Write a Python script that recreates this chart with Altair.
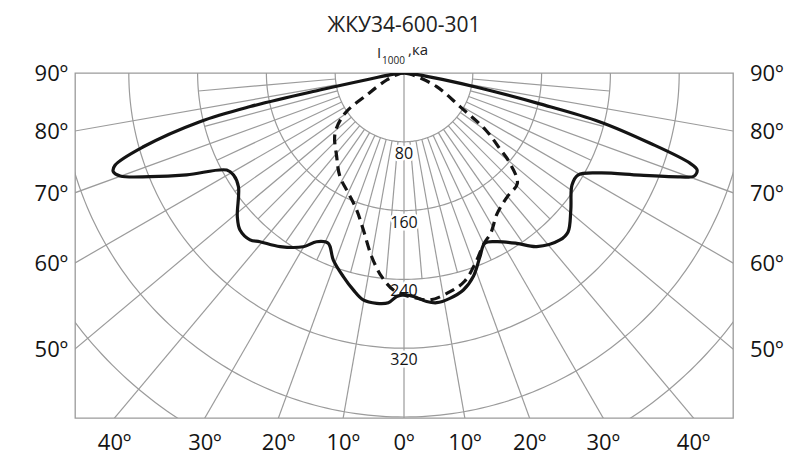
import altair as alt
import pandas as pd
import numpy as np

# ---------------- data ----------------
TITLE = "ЖКУ34-600-301"
UNIT_MAIN = "I"
UNIT_SUB = "1000"
UNIT_TAIL = ",ка"

# solid curve: angle from nadir (deg, left negative), intensity (cd)
solid_angle = [-90, -84, -80, -78.6, -77.7, -76.6, -74.2, -72.3, -71.25, -70.06,
               -67.8, -64.9, -61.3, -59.1, -55.5, -49.2, -46.25, -42.7, -40.5,
               -35.5, -30.1, -27.4, -24, -20.7, -16.6, -13.15, -10.2, -6.76,
               -3.9, -1.87, 0, 2.4, 5.67, 8.1, 11.5, 15.3, 18.8, 22.5, 25.4,
               28.8, 33.5, 37.4, 43.05, 45.9, 50.6, 56.3, 59.6, 63, 66.6, 69.4,
               70.4, 71.7, 72.5, 74.1, 76, 77.2, 78.8, 80.5, 84, 90]
solid_cd = [0, 12, 40, 100, 183, 244, 315, 352.7, 357, 351,
            319, 279, 235, 231, 233.6, 256, 264, 264, 258,
            248, 233.5, 221, 216.7, 232.5, 247, 259, 268, 269.7,
            267.7, 260, 258, 260, 267, 269.8, 267.4, 261.6, 250, 231, 219,
            223.8, 237.5, 254, 265.7, 265.6, 251, 234.8, 234.5, 256, 299, 343,
            358, 359, 348.6, 297, 235, 162, 90, 45, 12, 0]

# dashed curve
dash_angle = [-90, -80, -68, -59.5, -55.7, -48.8, -38.8, -31.7, -24.8, -19.05,
              -14.5, -9.97, -6.25, -2.8, 0, 3, 6.5, 11.9, 16.3, 20.85, 25.2,
              28.4, 33.6, 39.9, 45.8, 49.8, 51.5, 55.1, 59, 67.3, 78, 90]
dash_cd = [0, 6, 21.7, 50, 83, 106.6, 124.9, 141.7, 154, 168.5,
           188.6, 216.9, 238.3, 252.6, 258, 262, 265.7, 259.9, 252, 235, 218.8,
           211.9, 195.9, 187.4, 183.9, 160, 143.7, 115.8, 76, 41.2, 10, 0]

ring_values = [80, 160, 240, 320, 400, 480]
ring_labels = [80, 160, 240, 320]
major_rays = [-80, -70, -60, -50, -40, -30, -20, -10, 10, 20, 30, 40, 50, 60, 70, 80]
minor_rays = [-85, -75, -65, -55, -45, -35, -25, -15, -5, 5, 15, 25, 35, 45, 55, 65, 75, 85]
side_label_angles = [90, 80, 70, 60, 50]
bottom_label_angles = [-40, -30, -20, -10, 0, 10, 20, 30, 40]

# ---------------- geometry / style ----------------
K = 0.86                 # px per cd
W, H = 658, 345
XMAX = W / 2 / K
YMIN = -H / K
RAY_END = 700
MINOR_END = 240
FONT = "Open Sans"
GRID = "#9b9b9b"
INK = "#141414"

xs = alt.Scale(domain=[-XMAX, XMAX], nice=False, zero=False)
ys = alt.Scale(domain=[YMIN, 0], nice=False, zero=False)
X = alt.X("x:Q", scale=xs, axis=None)
Y = alt.Y("y:Q", scale=ys, axis=None)

POLAR = dict(x="datum.cd * sin(datum.deg * PI / 180)",
             y="-datum.cd * cos(datum.deg * PI / 180)")

# rings
ring_rows = []
for r in ring_values:
    for a in range(-90, 91):
        ring_rows.append({"ring": r, "deg": a, "cd": r})
rings_df = pd.DataFrame(ring_rows)

# rays
ray_rows = [{"ray": "v", "deg": 0, "cd": 0, "i": 0},
            {"ray": "v", "deg": 0, "cd": RAY_END, "i": 1}]
for a in major_rays:
    ray_rows += [{"ray": f"M{a}", "deg": a, "cd": ring_values[0], "i": 0},
                 {"ray": f"M{a}", "deg": a, "cd": RAY_END, "i": 1}]
for a in minor_rays:
    ray_rows += [{"ray": f"m{a}", "deg": a, "cd": ring_values[0], "i": 0},
                 {"ray": f"m{a}", "deg": a, "cd": MINOR_END, "i": 1}]
rays_df = pd.DataFrame(ray_rows)

solid_df = pd.DataFrame({"deg": solid_angle, "cd": solid_cd, "i": range(len(solid_cd))})
dash_df = pd.DataFrame({"deg": dash_angle, "cd": dash_cd, "i": range(len(dash_cd))})

rings = alt.Chart(rings_df).transform_calculate(**POLAR).mark_line(
    clip=True, stroke=GRID, strokeWidth=1.2
).encode(X, Y, detail="ring:N", order="deg:Q")

rays = alt.Chart(rays_df).transform_calculate(**POLAR).mark_line(
    clip=True, stroke=GRID, strokeWidth=1.2
).encode(X, Y, detail="ray:N", order="i:Q")

dashed = alt.Chart(dash_df).transform_calculate(**POLAR).mark_line(
    clip=True, stroke=INK, strokeWidth=3.2, strokeDash=[10, 6],
    interpolate="catmull-rom"
).encode(X, Y, order="i:Q")

solid = alt.Chart(solid_df).transform_calculate(**POLAR).mark_line(
    clip=True, stroke=INK, strokeWidth=3.2, interpolate="catmull-rom"
).encode(X, Y, order="i:Q")

# ring value labels
rl_df = pd.DataFrame({"cd": ring_labels, "deg": [0] * len(ring_labels),
                      "t": [str(v) for v in ring_labels]})
ring_halo = alt.Chart(rl_df).transform_calculate(**POLAR).mark_text(
    font=FONT, fontSize=16, baseline="middle", dy=12, stroke="white",
    strokeWidth=5, fill="white"
).encode(X, Y, text="t:N")
ring_text = alt.Chart(rl_df).transform_calculate(**POLAR).mark_text(
    font=FONT, fontSize=16, baseline="middle", dy=12, color=INK
).encode(X, Y, text="t:N")

# side angle labels (where rays meet the frame sides)
side_df = pd.DataFrame({"a": side_label_angles})
side_df["t"] = [f"{a}º" for a in side_label_angles]
side_df["y"] = [-XMAX * np.cos(np.radians(a)) / np.sin(np.radians(a)) for a in side_label_angles]
side_df["xl"] = -XMAX
side_df["xr"] = XMAX
left_lab = alt.Chart(side_df).mark_text(
    font=FONT, fontSize=22, align="right", baseline="alphabetic", dx=-7, dy=8, color=INK
).encode(x=alt.X("xl:Q", scale=xs, axis=None), y=Y, text="t:N")
right_lab = alt.Chart(side_df).mark_text(
    font=FONT, fontSize=22, align="left", baseline="alphabetic", dx=17, dy=8, color=INK
).encode(x=alt.X("xr:Q", scale=xs, axis=None), y=Y, text="t:N")

# bottom angle labels
bot_df = pd.DataFrame({"a": bottom_label_angles})
bot_df["t"] = [f"{abs(a)}º" for a in bottom_label_angles]
bot_df["x"] = [-YMIN * np.tan(np.radians(a)) for a in bottom_label_angles]
bot_df["y"] = YMIN
bottom_lab = alt.Chart(bot_df).mark_text(
    font=FONT, fontSize=22, align="center", baseline="alphabetic", dy=32, color=INK
).encode(X, Y, text="t:N")

# title & unit
title = alt.Chart(pd.DataFrame({"t": [TITLE]})).mark_text(
    font=FONT, fontSize=21, align="center", baseline="alphabetic", color="#222222"
).encode(text="t:N", x=alt.value(W / 2), y=alt.value(-41))
u1 = alt.Chart(pd.DataFrame({"t": [UNIT_MAIN]})).mark_text(
    font=FONT, fontSize=15, align="left", baseline="alphabetic", color="#222222"
).encode(text="t:N", x=alt.value(302), y=alt.value(-15))
u2 = alt.Chart(pd.DataFrame({"t": [UNIT_SUB]})).mark_text(
    font=FONT, fontSize=10, align="left", baseline="alphabetic", color="#222222"
).encode(text="t:N", x=alt.value(307), y=alt.value(-9))
u3 = alt.Chart(pd.DataFrame({"t": [UNIT_TAIL]})).mark_text(
    font=FONT, fontSize=15, align="left", baseline="alphabetic", color="#222222"
).encode(text="t:N", x=alt.value(333), y=alt.value(-18))

chart = alt.layer(
    rings, rays, ring_halo, ring_text, dashed, solid,
    left_lab, right_lab, bottom_lab, title, u1, u2, u3
).properties(
    width=W, height=H,
    autosize=alt.AutoSizeParams(type="none"),
    padding={"left": 67, "top": 65, "right": 67, "bottom": 40},
    background="white",
).configure_view(stroke=GRID, strokeWidth=1.3)

chart.save("out.html", embed_options={"renderer": "svg", "actions": False})
